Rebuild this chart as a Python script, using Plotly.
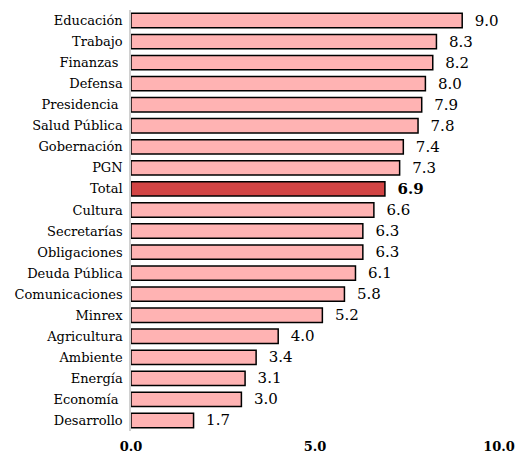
import plotly.graph_objects as go

categories = ["Educación", "Trabajo", "Finanzas ", "Defensa", "Presidencia ", "Salud Pública",
              "Gobernación", "PGN", "Total", "Cultura", "Secretarías", "Obligaciones",
              "Deuda Pública", "Comunicaciones", "Minrex", "Agricultura", "Ambiente",
              "Energía", "Economía ", "Desarrollo"]
values = [9.0, 8.3, 8.2, 8.0, 7.9, 7.8, 7.4, 7.3, 6.9, 6.6, 6.3, 6.3, 6.1, 5.8, 5.2,
          4.0, 3.4, 3.1, 3.0, 1.7]
tick_vals = [0, 5, 10]
tick_text = ["0.0", "5.0", "10.0"]

SERIF = "DejaVu Serif"

colors = ["#D24444" if c == "Total" else "#FFB3B3" for c in categories]
texts = ["\u00a0\u00a0<b>%.1f</b>" % v if c == "Total" else "\u00a0\u00a0%.1f" % v
         for c, v in zip(categories, values)]

fig = go.Figure(go.Bar(
    x=values, y=categories, orientation="h",
    marker=dict(color=colors, line=dict(color="black", width=1.5)),
    text=texts, textposition="outside", cliponaxis=False, constraintext="none",
    textfont=dict(family=SERIF, size=15, color="#000000"),
    width=0.68,
))

fig.update_layout(
    width=517, height=459,
    margin=dict(l=131, r=18, t=10, b=28),
    plot_bgcolor="white", paper_bgcolor="white",
    showlegend=False,
    font=dict(family=SERIF, size=13, color="#000000"),
    xaxis=dict(range=[0, 10], tickvals=tick_vals, ticktext=tick_text, showgrid=False,
               zeroline=False, showline=False, ticks="", automargin=False,
               tickfont=dict(family=SERIF, size=13, color="#000000", weight="bold"),
               ticklabelstandoff=6),
    yaxis=dict(autorange="reversed", showgrid=False, zeroline=False, showline=True,
               linecolor="#d0d0d0", linewidth=1.5, ticks="", ticklabelstandoff=4,
               automargin=False,
               tickfont=dict(family=SERIF, size=13, color="#000000")),
    bargap=0.3,
)

fig.write_html("out.html", config={"displayModeBar": False},
               post_script="document.body.style.margin='0';document.body.style.overflow='hidden';")
